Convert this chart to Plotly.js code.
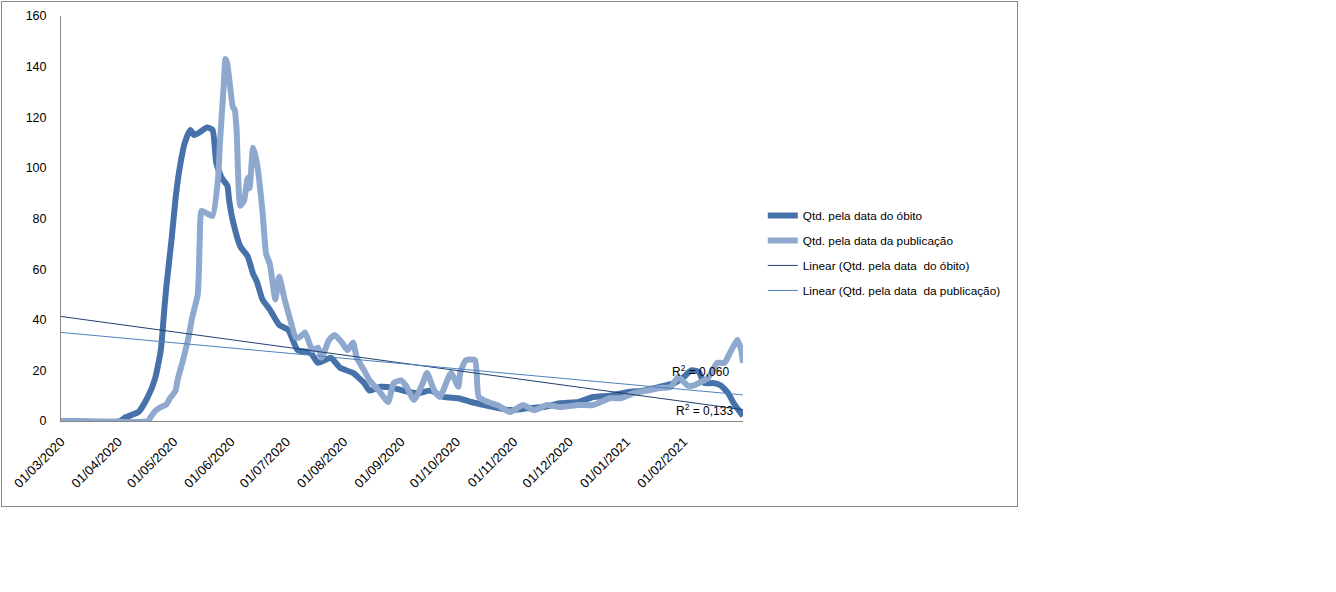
<!DOCTYPE html>
<html>
<head>
<meta charset="utf-8">
<script src="https://cdn.plot.ly/plotly-3.0.1.min.js"></script>
<style>
  body { margin: 0; background: #fff; }
  #frame { position: absolute; left: 1px; top: 1px; width: 1015px; height: 504px; border: 1px solid #868686; overflow: hidden; }
  #chart { width: 1100px; height: 504px; }
</style>
</head>
<body>
<div id="frame"><div id="chart"></div></div>
<script>
// Qtd. pela data do óbito
const obitoDates = [
  '2020-03-01', '2020-04-02', '2020-04-05', '2020-04-12', '2020-04-17', '2020-04-21', '2020-04-24',
  '2020-04-26', '2020-04-27', '2020-04-30', '2020-05-02', '2020-05-04', '2020-05-07', '2020-05-10',
  '2020-05-12', '2020-05-15', '2020-05-19', '2020-05-22', '2020-05-24', '2020-05-27', '2020-05-30',
  '2020-05-31', '2020-06-02', '2020-06-06', '2020-06-10', '2020-06-13', '2020-06-15', '2020-06-18',
  '2020-06-22', '2020-06-27', '2020-07-02', '2020-07-07', '2020-07-14', '2020-07-18', '2020-07-25',
  '2020-07-30', '2020-08-06', '2020-08-12', '2020-08-15', '2020-08-21', '2020-08-28', '2020-09-02',
  '2020-09-10', '2020-09-17', '2020-09-24', '2020-10-02', '2020-10-09', '2020-10-16', '2020-10-21',
  '2020-10-30', '2020-11-08', '2020-11-17', '2020-11-26', '2020-12-06', '2020-12-14', '2020-12-23',
  '2021-01-02', '2021-01-10', '2021-01-19', '2021-01-27', '2021-02-01', '2021-02-05', '2021-02-09',
  '2021-02-12', '2021-02-17', '2021-02-21', '2021-02-25', '2021-02-28', '2021-03-04', '2021-03-05'
];
const obitoValues = [
  0, 0, 1.5, 3.6, 9.5, 17, 28,
  45, 53, 73, 88, 99, 110, 115,
  113, 114, 116, 115, 102, 96, 93,
  87, 79, 69, 65, 58, 55, 48,
  44, 38, 36, 28, 27, 23, 25,
  21, 19, 15, 12, 13.5, 13, 12,
  11, 12, 9.5, 9, 7.5, 6.3, 5.5,
  4.3, 5, 5.5, 7, 7.5, 9.5, 10,
  11.5, 12, 13.5, 15, 17.4, 20, 19.5,
  15, 15, 14, 11, 7, 3, 2
];

// Qtd. pela data da publicação
const pubDates = [
  '2020-03-01', '2020-04-17', '2020-04-18', '2020-04-21', '2020-04-24', '2020-04-27', '2020-04-29',
  '2020-05-02', '2020-05-03', '2020-05-06', '2020-05-09', '2020-05-11', '2020-05-14', '2020-05-15',
  '2020-05-16', '2020-05-19', '2020-05-22', '2020-05-25', '2020-05-26', '2020-05-28', '2020-05-29',
  '2020-05-30', '2020-06-02', '2020-06-03', '2020-06-04', '2020-06-06', '2020-06-08', '2020-06-10',
  '2020-06-11', '2020-06-13', '2020-06-15', '2020-06-18', '2020-06-20', '2020-06-22', '2020-06-25',
  '2020-06-27', '2020-06-30', '2020-07-03', '2020-07-06', '2020-07-08', '2020-07-11', '2020-07-15',
  '2020-07-18', '2020-07-20', '2020-07-24', '2020-07-27', '2020-07-31', '2020-08-03', '2020-08-06',
  '2020-08-08', '2020-08-12', '2020-08-15', '2020-08-20', '2020-08-25', '2020-08-28', '2020-09-01',
  '2020-09-04', '2020-09-08', '2020-09-13', '2020-09-15', '2020-09-19', '2020-09-22', '2020-09-28',
  '2020-10-02', '2020-10-03', '2020-10-06', '2020-10-11', '2020-10-13', '2020-10-18', '2020-10-23',
  '2020-10-30', '2020-11-06', '2020-11-12', '2020-11-19', '2020-11-26', '2020-12-06', '2020-12-14',
  '2020-12-23', '2020-12-29', '2021-01-05', '2021-01-12', '2021-01-19', '2021-01-25', '2021-01-29',
  '2021-02-03', '2021-02-06', '2021-02-14', '2021-02-19', '2021-02-23', '2021-02-26', '2021-03-02',
  '2021-03-04', '2021-03-05'
];
const pubValues = [
  0, 0, 1, 4, 5.5, 6.5, 9,
  12, 16, 24, 33, 41, 50, 70,
  83, 82, 81, 96, 110, 132, 143,
  141, 124, 123, 115, 85, 87, 96,
  92, 108, 102, 83, 66, 62, 48,
  57, 48, 40, 33, 33, 35, 28,
  29, 25, 32, 34, 31, 28, 31,
  25, 20, 16, 12, 7.5, 15, 16,
  13.5, 8.3, 15.4, 19, 12, 9.5, 19,
  13.5, 19, 24, 24, 9.5, 7.5, 6.3,
  3.6, 6.3, 4.3, 6.3, 5.5, 6.3, 6.3,
  9, 9, 11, 12, 13, 13.5, 17.4,
  14, 14, 17, 23, 23, 27, 32,
  28, 23
];

// Linhas de tendência (extremos)
const trendDates = ['2020-03-01', '2021-03-05'];
const trendObito = [41.3, 4.5];
const trendPub = [35, 10.3];
const r2Labels = ['R<sup>2</sup> = 0,060', 'R<sup>2</sup> = 0,133'];

// Marcas do eixo X: primeiro dia de cada mês
const monthTicks = [
  '2020-03-01', '2020-04-01', '2020-05-01', '2020-06-01', '2020-07-01', '2020-08-01',
  '2020-09-01', '2020-10-01', '2020-11-01', '2020-12-01', '2021-01-01', '2021-02-01'
];

const FONT = "'Liberation Sans', Arial, sans-serif";

const traces = [
  {
    type: 'scatter', mode: 'lines', name: 'Qtd. pela data do óbito',
    x: obitoDates, y: obitoValues, legendgroup: 'a',
    line: { color: '#4672A9', width: 6, shape: 'spline', smoothing: 0.5 },
  },
  {
    type: 'scatter', mode: 'lines', name: 'Qtd. pela data da publicação',
    x: pubDates, y: pubValues, legendgroup: 'b',
    line: { color: '#8FA9CE', width: 6, shape: 'spline', smoothing: 0.5 },
  },
  {
    type: 'scatter', mode: 'lines', name: 'Linear (Qtd. pela data  do óbito)',
    x: trendDates, y: trendObito, legendgroup: 'c',
    line: { color: '#1F3F6E', width: 1 },
  },
  {
    type: 'scatter', mode: 'lines', name: 'Linear (Qtd. pela data  da publicação)',
    x: trendDates, y: trendPub, legendgroup: 'd',
    line: { color: '#4F81BD', width: 1 },
  },
];

const layout = {
  width: 1100, height: 504,
  paper_bgcolor: '#fff', plot_bgcolor: '#fff',
  font: { family: FONT, size: 12, color: '#000' },
  margin: { l: 59, r: 359, t: 14, b: 85 },
  showlegend: true,
  legend: {
    x: 1.029, y: 0.415, xanchor: 'left', yanchor: 'middle',
    font: { family: FONT, size: 11.8, color: '#000' },
    traceorder: 'grouped', tracegroupgap: 6,
    bgcolor: 'rgba(0,0,0,0)',
  },
  xaxis: {
    type: 'date',
    range: ['2020-03-01', '2021-03-05'],
    tickmode: 'array', tickvals: monthTicks, tickformat: '%d/%m/%Y',
    tickangle: -45, ticks: '', showgrid: false, zeroline: false,
    showline: true, linecolor: '#868686', linewidth: 1,
    ticklabelstandoff: 7,
    tickfont: { family: FONT, size: 13, color: '#000' },
  },
  yaxis: {
    range: [0, 160], dtick: 20, ticks: '', showgrid: false, zeroline: false,
    showline: true, linecolor: '#868686', linewidth: 1,
    ticklabelstandoff: 11,
    tickfont: { family: FONT, size: 12.5, color: '#000' },
  },
  annotations: [
    { x: '2021-02-10', y: 19.8, xref: 'x', yref: 'y', text: r2Labels[0], showarrow: false,
      font: { family: FONT, size: 12, color: '#000' } },
    { x: '2021-02-12', y: 4.4, xref: 'x', yref: 'y', text: r2Labels[1], showarrow: false,
      font: { family: FONT, size: 12, color: '#000' } },
  ],
};

Plotly.newPlot('chart', traces, layout, { displayModeBar: false, staticPlot: true });
</script>
</body>
</html>
